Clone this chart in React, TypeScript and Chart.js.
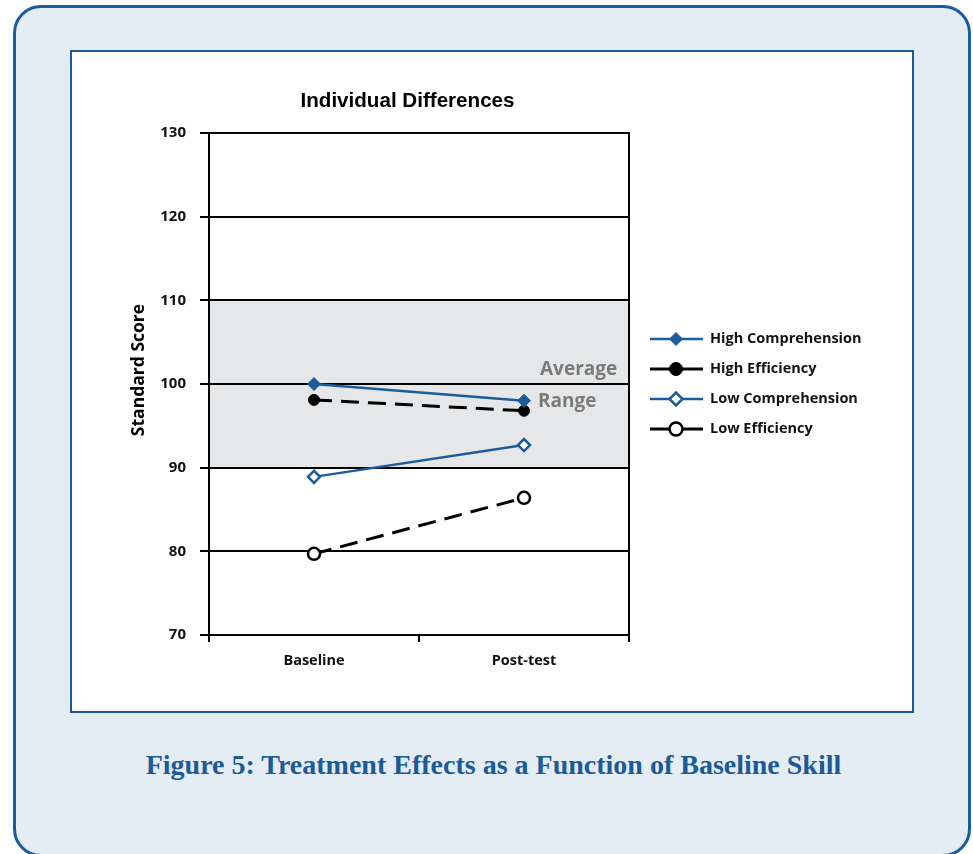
import React, { useEffect, useRef } from "react";
import { Chart, registerables } from "chart.js";

Chart.register(...registerables);

const categories = ["Baseline", "Post-test"];
const seriesNames = ["High Comprehension", "High Efficiency", "Low Comprehension", "Low Efficiency"];
const highComprehension = [100, 98];
const highEfficiency = [98.1, 96.8];
const lowComprehension = [88.9, 92.7];
const lowEfficiency = [79.7, 86.4];
const yTicks = [70, 80, 90, 100, 110, 120, 130];
const averageBand = [90, 110];
const bandLabels = ["Average", "Range"];
const chartTitle = "Individual Differences";
const yTitle = "Standard Score";
const caption = "Figure 5: Treatment Effects as a Function of Baseline Skill";

const BLUE = "#1b5c9c";
const BLACK = "#000000";
const TICK_FONT = "'Open Sans', sans-serif";

const overlayPlugin = {
  id: "overlay",
  beforeDraw(chart: any) {
    const { ctx, chartArea, scales } = chart;
    const y = scales.y;
    const top = y.getPixelForValue(averageBand[1]);
    const bot = y.getPixelForValue(averageBand[0]);
    ctx.save();
    ctx.fillStyle = "#e6e7e8";
    ctx.fillRect(chartArea.left, top, chartArea.right - chartArea.left, bot - top);
    ctx.restore();
  },
  afterDraw(chart: any) {
    const { ctx, chartArea, scales } = chart;
    const y = scales.y;
    ctx.save();
    // band labels
    ctx.fillStyle = "#7b7b7b";
    ctx.font = "bold 19px " + TICK_FONT;
    ctx.textAlign = "left";
    ctx.textBaseline = "alphabetic";
    const p100 = y.getPixelForValue(100);
    ctx.fillText(bandLabels[0], chartArea.right - 89, p100 - 9);
    ctx.fillText(bandLabels[1], chartArea.right - 91, p100 + 23);
    // chart title
    ctx.fillStyle = "#000";
    ctx.font = "bold 20.6px 'Liberation Sans', Arial, sans-serif";
    ctx.textAlign = "center";
    ctx.fillText(chartTitle, (chartArea.left + chartArea.right) / 2 - 11.5, chartArea.top - 26);
    // y title
    ctx.save();
    ctx.translate(chartArea.left - 65, (chartArea.top + chartArea.bottom) / 2 - 14);
    ctx.rotate(-Math.PI / 2);
    ctx.font = "bold 17.5px " + TICK_FONT;
    ctx.textAlign = "center";
    ctx.fillText(yTitle, 0, 0);
    ctx.restore();
    // legend
    const rowGap = 30;
    const cy = (chartArea.top + chartArea.bottom) / 2;
    const x0 = chartArea.right + 21;
    const x1 = chartArea.right + 74;
    const mx = chartArea.right + 47;
    chart.data.datasets.forEach((ds: any, i: number) => {
      const ry = cy + (i - 1.5) * rowGap;
      ctx.strokeStyle = ds.borderColor;
      ctx.lineWidth = ds.borderColor === BLUE ? 2.5 : 3;
      ctx.setLineDash([]);
      ctx.beginPath();
      ctx.moveTo(x0, ry);
      ctx.lineTo(x1, ry);
      ctx.stroke();
      const r = 6.5;
      ctx.beginPath();
      if (ds.pointStyle === "rectRot") {
        ctx.moveTo(mx, ry - r);
        ctx.lineTo(mx + r, ry);
        ctx.lineTo(mx, ry + r);
        ctx.lineTo(mx - r, ry);
        ctx.closePath();
      } else {
        ctx.arc(mx, ry, r, 0, Math.PI * 2);
      }
      ctx.fillStyle = ds.pointBackgroundColor;
      ctx.fill();
      ctx.lineWidth = ds.pointBorderWidth;
      ctx.strokeStyle = ds.pointBorderColor;
      ctx.stroke();
      ctx.fillStyle = "#111";
      ctx.font = "bold 14.5px " + TICK_FONT;
      ctx.textAlign = "left";
      ctx.textBaseline = "middle";
      ctx.fillText(ds.label, chartArea.right + 81, ry);
    });
    ctx.restore();
  },
};

export default function App() {
  const ref = useRef<HTMLCanvasElement>(null);
  useEffect(() => {
    if (!ref.current) return;
    const chart = new Chart(ref.current, {
      type: "line",
      data: {
        labels: categories,
        datasets: [
          {
            label: seriesNames[0],
            data: highComprehension,
            borderColor: BLUE,
            borderWidth: 2.5,
            pointStyle: "rectRot",
            pointRadius: 6.5,
            pointBackgroundColor: BLUE,
            pointBorderColor: BLUE,
            pointBorderWidth: 1,
          },
          {
            label: seriesNames[1],
            data: highEfficiency,
            borderColor: BLACK,
            borderWidth: 3,
            borderDash: [18, 9],
            pointStyle: "circle",
            pointRadius: 5.5,
            pointBackgroundColor: BLACK,
            pointBorderColor: BLACK,
            pointBorderWidth: 1,
          },
          {
            label: seriesNames[2],
            data: lowComprehension,
            borderColor: BLUE,
            borderWidth: 2.5,
            pointStyle: "rectRot",
            pointRadius: 6,
            pointBackgroundColor: "#ffffff",
            pointBorderColor: BLUE,
            pointBorderWidth: 2.5,
          },
          {
            label: seriesNames[3],
            data: lowEfficiency,
            borderColor: BLACK,
            borderWidth: 3,
            borderDash: [18, 9],
            pointStyle: "circle",
            pointRadius: 6,
            pointBackgroundColor: "#ffffff",
            pointBorderColor: BLACK,
            pointBorderWidth: 2.5,
          },
        ],
      },
      options: {
        animation: false,
        responsive: false,
        maintainAspectRatio: false,
        layout: { padding: { top: 81, right: 282, left: 0, bottom: 0 } },
        plugins: { legend: { display: false }, title: { display: false }, tooltip: { enabled: false } },
        scales: {
          x: {
            type: "category",
            offset: true,
            grid: { offset: true, drawOnChartArea: false, color: BLACK, lineWidth: 2, tickLength: 7 },
            border: { color: BLACK, width: 2 },
            ticks: { color: "#111", font: { family: TICK_FONT, weight: "bold", size: 14.5 }, padding: 10 },
            afterFit: (s: any) => { s.height = 75; },
          },
          y: {
            min: yTicks[0],
            max: yTicks[yTicks.length - 1],
            afterBuildTicks: (s: any) => { s.ticks = yTicks.map((v) => ({ value: v })); },
            grid: { color: BLACK, lineWidth: 2, tickLength: 9 },
            border: { color: BLACK, width: 2 },
            ticks: { color: "#111", font: { family: TICK_FONT, weight: "bold", size: 15 }, padding: 14 },
            afterFit: (s: any) => { s.width = 137; },
          },
          y2: {
            position: "right",
            min: yTicks[0],
            max: yTicks[yTicks.length - 1],
            grid: { drawOnChartArea: false, drawTicks: false },
            border: { color: BLACK, width: 2 },
            ticks: { display: false },
            afterFit: (s: any) => { s.width = 0; },
          },
        },
      },
      plugins: [overlayPlugin],
    } as any);
    return () => chart.destroy();
  }, []);

  return (
    <div style={{ position: "absolute", left: 0, top: 0, width: 973, height: 854, overflow: "hidden" }}>
      <div
        style={{
          position: "absolute",
          left: 13,
          top: 5,
          width: 958,
          height: 852,
          boxSizing: "border-box",
          border: "3px solid #1a5a9e",
          borderRadius: 28,
          background: "#e4ecf4",
        }}
      />
      <div
        style={{
          position: "absolute",
          left: 70,
          top: 50,
          width: 844,
          height: 663,
          boxSizing: "border-box",
          border: "2.5px solid #1a5a9e",
          background: "#ffffff",
        }}
      >
        <canvas ref={ref} width={839} height={658} style={{ display: "block", width: 839, height: 658 }} />
      </div>
      <div
        style={{
          position: "absolute",
          left: 0,
          width: 973,
          top: 749,
          textAlign: "center",
          fontFamily: "'Liberation Serif', 'DejaVu Serif', serif",
          fontWeight: "bold",
          fontSize: 28,
          color: "#1d5a98",
          paddingLeft: 14,
          boxSizing: "border-box",
          whiteSpace: "nowrap",
        }}
      >
        {caption}
      </div>
    </div>
  );
}
